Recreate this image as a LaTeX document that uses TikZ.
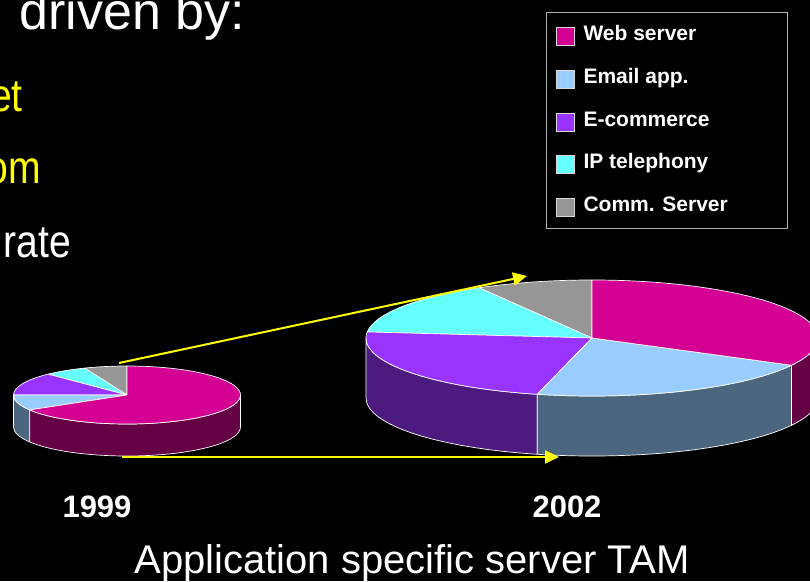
\documentclass[tikz,border=0pt]{standalone}
\usepackage{graphicx}
\usepackage{fontspec}
\setmainfont{Liberation Sans}
\usetikzlibrary{arrows.meta,positioning}

\definecolor{webserver}{HTML}{D40094}
\definecolor{webside}{HTML}{660044}
\definecolor{emailapp}{HTML}{99CCFF}
\definecolor{emailside}{HTML}{4D6680}
\definecolor{ecommerce}{HTML}{9933FF}
\definecolor{ecomside}{HTML}{4D1A7F}
\definecolor{iptel}{HTML}{66FFFF}
\definecolor{commserver}{HTML}{969696}
\definecolor{growth}{HTML}{FFFF00}

% top of a slice: cx, cy, rx, ry, from, to, colour
\newcommand{\pieTop}[7]{%
  \filldraw[slice edge, fill=#7] (#1,#2) -- ++({#3*cos(#5)},{#4*sin(#5)})
    arc[start angle=#5, end angle=#6, x radius=#3, y radius=#4] -- cycle;}
% side of a slice: cx, cy, rx, ry, from, to, depth, colour
\newcommand{\pieSide}[8]{%
  \filldraw[slice edge, fill=#8] ({#1+#3*cos(#5)},{#2+#4*sin(#5)})
    arc[start angle=#5, end angle=#6, x radius=#3, y radius=#4] -- ++(0,-#7)
    arc[start angle=#6, end angle=#5, x radius=#3, y radius=#4] -- cycle;}
\newcommand{\narrow}[1]{\scalebox{0.85}[1]{#1}}

\begin{document}
\begin{tikzpicture}[x=1pt, y=1pt,
    slice edge/.style={draw=white, line width=0.7pt, line join=round},
    bullet text/.style={font=\fontsize{52}{60}\selectfont, inner sep=0pt},
    sub text/.style={font=\fontsize{46}{54}\selectfont, inner sep=0pt, anchor=base east},
    key box/.style={draw=white!85!black, line width=0.6pt, minimum size=18pt, inner sep=0pt},
    key text/.style={font=\bfseries\fontsize{21}{25}\selectfont, text=white, inner sep=0pt},
    year label/.style={font=\bfseries\fontsize{31}{36}\selectfont, text=white, inner sep=0pt, anchor=base},
    growth arrow/.style={draw=growth, line width=2pt, -{Triangle[length=14pt, width=13pt]}}]
    \useasboundingbox (0,0) rectangle (810,581);
    \clip (0,0) rectangle (810,581);
    \fill[black] (0,0) rectangle (810,581);

    \node[bullet text, text=white, anchor=base east] (drv) at (245,551) {driven by:};
    \node[sub text, text=growth] (lne) at (23,469) {\narrow{et}};
    \node[sub text, text=growth] (lnom) at (41,397) {\narrow{om}};
    \node[sub text, text=white] (lnr) at (71,323) {\narrow{rate}};

    % 1999
    \pieSide{127}{186}{113.5}{29}{180}{211}{32}{emailside}
    \pieSide{127}{186}{113.5}{29}{211}{360}{32}{webside}
    \pieTop{127}{186}{113.5}{29}{90}{112}{commserver}
    \pieTop{127}{186}{113.5}{29}{112}{134}{iptel}
    \pieTop{127}{186}{113.5}{29}{134}{180}{ecommerce}
    \pieTop{127}{186}{113.5}{29}{180}{211}{emailapp}
    \pieTop{127}{186}{113.5}{29}{211}{450}{webserver}

    % 2002
    \pieSide{592}{243}{226}{58}{180}{256}{60}{ecomside}
    \pieSide{592}{243}{226}{58}{256}{332}{60}{emailside}
    \pieSide{592}{243}{226}{58}{332}{360}{60}{webside}
    \pieTop{592}{243}{226}{58}{90}{120}{commserver}
    \pieTop{592}{243}{226}{58}{120}{174}{iptel}
    \pieTop{592}{243}{226}{58}{174}{256}{ecommerce}
    \pieTop{592}{243}{226}{58}{256}{332}{emailapp}
    \pieTop{592}{243}{226}{58}{332}{450}{webserver}

    \coordinate (small top) at (119,218);
    \coordinate (big top) at (527,305);
    \coordinate (small base) at (122,124);
    \coordinate (big base) at (559,124);
    \draw[growth arrow] (small top) -- (big top);
    \draw[growth arrow] (small base) -- (big base);

    \draw[draw=white!70!black, line width=0.8pt] (546,569) rectangle (787,353);
    \node[key box, fill=webserver] (kweb) at (565,545) {};
    \node[key box, fill=emailapp] (kmail) at (565,502) {};
    \node[key box, fill=ecommerce] (kecom) at (565,459) {};
    \node[key box, fill=iptel] (kip) at (565,417) {};
    \node[key box, fill=commserver] (kcomm) at (565,374) {};
    \node[key text, right=9pt of kweb, anchor=base west, yshift=-5pt] (tweb) {Web server};
    \node[key text, right=9pt of kmail, anchor=base west, yshift=-5pt] (tmail) {Email app.};
    \node[key text, right=9pt of kecom, anchor=base west, yshift=-5pt] (tecom) {E-commerce};
    \node[key text, right=9pt of kip, anchor=base west, yshift=-5pt] (tip) {IP telephony};
    \node[key text, right=9pt of kcomm, anchor=base west, yshift=-5pt] (tcomm) {Comm. Server};

    \node[year label] (y1999) at (97,64) {1999};
    \node[year label] (y2002) at (567,64) {2002};
    \node[font=\fontsize{40}{48}\selectfont, text=white, inner sep=0pt, anchor=base] (tam) at (412,8) {Application specific server TAM};
\end{tikzpicture}
\end{document}
